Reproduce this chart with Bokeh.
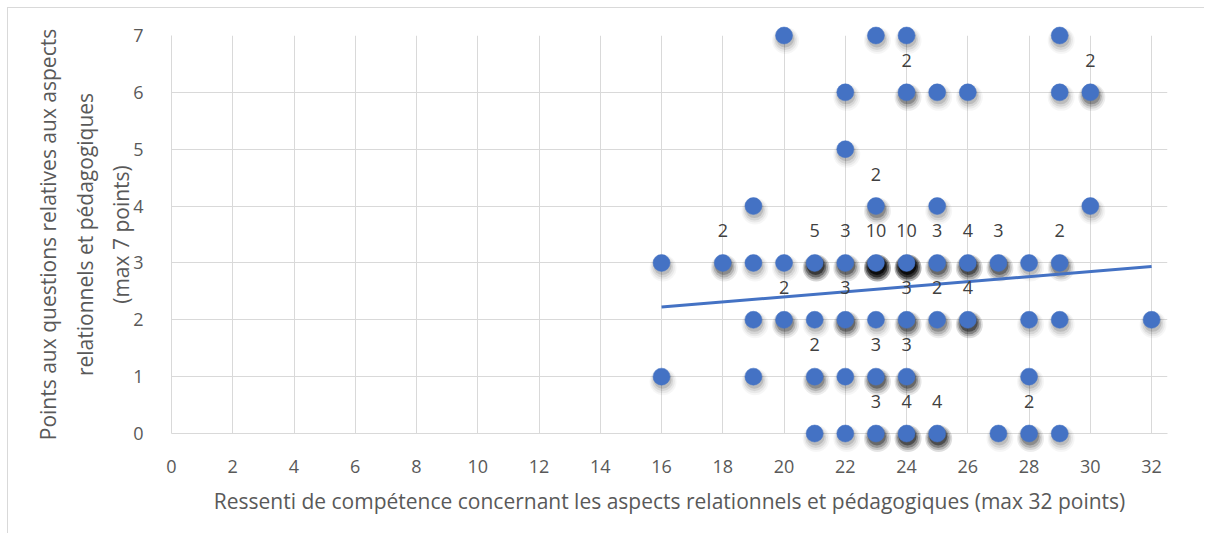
import numpy as np
from bokeh.plotting import figure
from bokeh.models import ColumnDataSource, Range1d, FixedTicker
from bokeh.core.properties import value
from bokeh.embed import file_html
from bokeh.resources import INLINE

# ---- data ----
competence = [20, 23, 24, 29,
              22, 24, 25, 26, 29, 30,
              22,
              19, 23, 25, 30,
              16, 18, 19, 20, 21, 22, 23, 24, 25, 26, 27, 28, 29,
              19, 20, 21, 22, 23, 24, 25, 26, 28, 29, 32,
              16, 19, 21, 22, 23, 24, 28,
              21, 22, 23, 24, 25, 27, 28, 29]
points = [7, 7, 7, 7,
          6, 6, 6, 6, 6, 6,
          5,
          4, 4, 4, 4,
          3, 3, 3, 3, 3, 3, 3, 3, 3, 3, 3, 3, 3,
          2, 2, 2, 2, 2, 2, 2, 2, 2, 2, 2,
          1, 1, 1, 1, 1, 1, 1,
          0, 0, 0, 0, 0, 0, 0, 0]
counts = [1, 1, 1, 1,
          1, 2, 1, 1, 1, 2,
          1,
          1, 2, 1, 1,
          1, 2, 1, 1, 5, 3, 10, 10, 3, 4, 3, 1, 2,
          1, 2, 1, 3, 1, 3, 2, 4, 1, 1, 1,
          1, 1, 2, 1, 3, 3, 1,
          1, 1, 3, 4, 4, 1, 2, 1]
x_ticks = [0, 2, 4, 6, 8, 10, 12, 14, 16, 18, 20, 22, 24, 26, 28, 30, 32]
y_ticks = [0, 1, 2, 3, 4, 5, 6, 7]

x_title = "Ressenti de compétence concernant les aspects relationnels et pédagogiques (max 32 points)"
y_title = "Points aux questions relatives aux aspects\nrelationnels et pédagogiques\n(max 7 points)"

BLUE = "#4472C4"
FONT = "Open Sans"

W, H = 1197, 526
ML, MR, MT, MB = 163, 38, 27, 101
X0, X1, Y0, Y1 = 0, 32.52, 0, 7
fw, fh = W - ML - MR, H - MT - MB
ux, uy = (X1 - X0) / fw, (Y1 - Y0) / fh

cx = np.array(competence, dtype=float)
cy = np.array(points, dtype=float)
cn = np.array(counts)

p = figure(width=W, height=H, x_range=Range1d(X0, X1), y_range=Range1d(Y0, Y1),
           output_backend="svg", toolbar_location=None,
           min_border_left=ML, min_border_right=MR, min_border_top=MT, min_border_bottom=MB)
# place the chart 8px from the page corner with a thin left/top chart border
p.styles = {"margin-left": "7px", "margin-top": "7px",
            "border-left": "1px solid #d9d9d9", "border-top": "1px solid #d9d9d9"}
p.outline_line_color = None
p.background_fill_color = "white"
p.border_fill_color = "white"

for ax, ticks in ((p.xaxis, x_ticks), (p.yaxis, y_ticks)):
    ax.ticker = FixedTicker(ticks=ticks)
    ax.axis_line_color = "#d9d9d9"
    ax.axis_line_width = 1
    ax.major_tick_line_color = None
    ax.minor_tick_line_color = None
    ax.major_label_text_font = FONT
    ax.major_label_text_font_size = "18px"
    ax.major_label_text_color = "#595959"
    ax.axis_label_text_font = FONT
    ax.axis_label_text_font_size = "21px"
    ax.axis_label_text_font_style = "normal"
    ax.axis_label_text_color = "#595959"

p.xaxis.axis_label = x_title
p.yaxis.axis_label = y_title
p.xaxis.major_label_standoff = 20
p.yaxis.major_label_standoff = 22
p.xaxis.axis_label_standoff = 11
p.yaxis.axis_label_standoff = -5
p.yaxis.axis_label_text_line_height = 1.3

p.xgrid.ticker = FixedTicker(ticks=x_ticks)
p.ygrid.ticker = FixedTicker(ticks=y_ticks)
p.grid.grid_line_color = "#d9d9d9"
p.grid.grid_line_width = 1

# soft shadows (accumulating for superimposed points)
for size, a, dx, dy in ((27, 0.035, 1.5, 5.0), (24, 0.05, 1.3, 4.5),
                        (21, 0.08, 1.1, 4.0), (18, 0.12, 1.0, 3.0)):
    alpha = 1 - (1 - a) ** cn
    src = ColumnDataSource(dict(x=cx + dx * ux, y=cy - dy * uy, a=alpha))
    p.scatter("x", "y", source=src, size=size, fill_color="black", fill_alpha="a",
              line_color=None, level="overlay")

src = ColumnDataSource(dict(x=cx, y=cy))
p.scatter("x", "y", source=src, size=17, fill_color=BLUE, line_color=BLUE,
          line_width=0.5, level="overlay")

# linear trend line from expanded data
ex = np.repeat(cx, cn)
ey = np.repeat(cy, cn)
slope, intercept = np.polyfit(ex, ey, 1)
tx = np.array([ex.min(), ex.max()])
p.line(tx, slope * tx + intercept, line_color=BLUE, line_width=3, level="overlay")

# data labels for superimposed points
mask = cn > 1
lsrc = ColumnDataSource(dict(x=cx[mask], y=cy[mask], t=[str(c) for c in cn[mask]]))
p.text("x", "y", text="t", source=lsrc, y_offset=-32, text_align="center",
       text_baseline="middle", text_font=value(FONT), text_font_size="18px",
       text_color="#404040", level="overlay")

open("out.html", "w").write(file_html(p, INLINE))
